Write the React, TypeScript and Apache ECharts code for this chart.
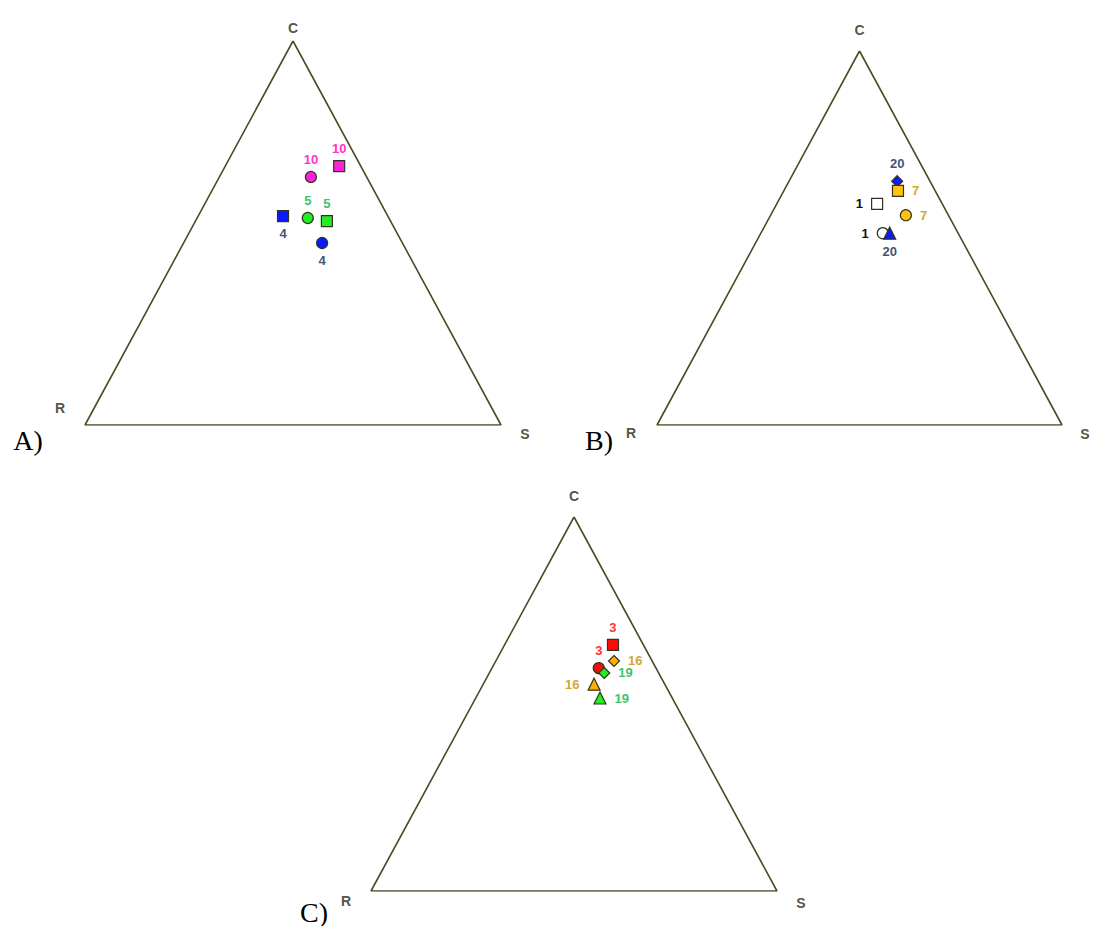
import React, { useEffect, useRef } from "react";
import * as echarts from "echarts";

// Ternary CSR values (percent) for each panel
const aLabels = ["10", "10", "4", "5", "5", "4"];
const aC = [64.6, 67.4, 54.4, 53.9, 53.1, 47.4];
const aS = [22.0, 27.4, 20.4, 26.6, 31.6, 33.3];
const aR = [13.4, 5.2, 25.2, 19.5, 15.3, 19.3];

const bLabels = ["20", "7", "1", "7", "1", "20"];
const bC = [65.2, 62.6, 59.1, 56.1, 51.3, 51.3];
const bS = [26.7, 28.2, 24.8, 33.4, 30.1, 31.8];
const bR = [8.1, 9.2, 16.1, 10.5, 18.6, 16.9];

const cLabels = ["3", "16", "3", "19", "16", "19"];
const cC = [65.8, 61.5, 59.6, 58.3, 55.3, 51.6];
const cS = [26.7, 29.1, 26.3, 28.3, 27.3, 30.6];
const cR = [7.5, 9.4, 14.1, 13.4, 17.4, 17.8];

// Triangle corners (C, S, R)
const cornerNames = ["C", "R", "S"];
const cornerC = [100, 0, 0];
const cornerS = [0, 0, 100];
const cornerR = [0, 100, 0];

const panelNames = ["A)", "B)", "C)"];

// Styles
const aSymbols = ["circle", "rect", "rect", "circle", "rect", "circle"];
const aColors = ["#ff22dd", "#ff22dd", "#0a1aff", "#22ee22", "#22ee22", "#0a1aff"];
const aLabelColors = ["#ff33cc", "#ff33cc", "#3f5577", "#3cc46c", "#3cc46c", "#3f5577"];
const aLabelPos = ["top", "top", "bottom", "top", "top", "bottom"];

const bSymbols = ["diamond", "rect", "rect", "circle", "circle", "triangle"];
const bColors = ["#0a1aff", "#ffc20e", "#ffffff", "#ffc20e", "#ffffff", "#0a1aff"];
const bLabelColors = ["#3f5577", "#d4a631", "#111111", "#d4a631", "#111111", "#3f5577"];
const bLabelPos = ["top", "right", "left", "right", "left", "bottom"];

const cSymbols = ["rect", "diamond", "circle", "diamond", "triangle", "triangle"];
const cColors = ["#ff0a0a", "#ffb000", "#ff0a0a", "#22ee22", "#ffb000", "#22ee22"];
const cLabelColors = ["#ff3333", "#d4a631", "#ff3333", "#3cc46c", "#d4a631", "#3cc46c"];
const cLabelPos = ["top", "right", "top", "right", "left", "right"];

function toXY(c: number, s: number, r: number): [number, number] {
  const t = c + s + r;
  return [(s + c / 2) / t, c / t];
}

const grids = [
  { left: 85, top: 41, width: 416, height: 384 },
  { left: 657, top: 51, width: 405, height: 374 },
  { left: 371, top: 517, width: 406, height: 374 },
];

const cornerOffsets = [
  [[0, -13], [-25, -17], [24, 9]],
  [[0, -21], [-26, 8], [23, 9]],
  [[0, -21], [-25, 10], [24, 12]],
];

const panelLabelPos = [
  [28, 440],
  [599, 440],
  [314, 912],
];

const symbolSizes: Record<string, number> = { circle: 11, rect: 11, diamond: 11, triangle: 12 };

export default function App() {
  const ref = useRef<HTMLDivElement>(null);
  useEffect(() => {
    if (!ref.current) return;
    const chart = echarts.init(ref.current, undefined, { renderer: "svg" });

    const panels = [
      { labels: aLabels, C: aC, S: aS, R: aR, sym: aSymbols, col: aColors, lc: aLabelColors, lp: aLabelPos },
      { labels: bLabels, C: bC, S: bS, R: bR, sym: bSymbols, col: bColors, lc: bLabelColors, lp: bLabelPos },
      { labels: cLabels, C: cC, S: cS, R: cR, sym: cSymbols, col: cColors, lc: cLabelColors, lp: cLabelPos },
    ];

    const series: any[] = [];
    panels.forEach((p, i) => {
      const tri = [0, 1, 2, 0].map((k) => toXY(cornerC[k], cornerS[k], cornerR[k]));
      series.push({
        type: "line",
        xAxisIndex: i,
        yAxisIndex: i,
        data: tri,
        symbol: "none",
        silent: true,
        lineStyle: { color: "#4b4b26", width: 1.6 },
        z: 1,
      });
      series.push({
        type: "scatter",
        xAxisIndex: i,
        yAxisIndex: i,
        symbolSize: 0,
        silent: true,
        data: cornerNames.map((n, k) => ({
          value: toXY(cornerC[k], cornerS[k], cornerR[k]),
          name: n,
          label: {
            show: true,
            position: "inside",
            offset: cornerOffsets[i][k],
            formatter: n,
            color: "#262614",
            fontFamily: "Liberation Sans, Arial, sans-serif",
            fontWeight: "bold",
            fontSize: 14,
          },
        })),
        z: 2,
      });
      series.push({
        type: "scatter",
        xAxisIndex: i,
        yAxisIndex: i,
        z: 3,
        data: p.labels.map((lab, k) => ({
          value: toXY(p.C[k], p.S[k], p.R[k]),
          name: lab,
          symbol: p.sym[k],
          symbolSize: symbolSizes[p.sym[k]],
          itemStyle: { color: p.col[k], borderColor: "#333322", borderWidth: 1.2, opacity: 1 },
          label: {
            show: true,
            formatter: lab,
            position: p.lp[k],
            distance: p.lp[k] === "left" || p.lp[k] === "right" ? 8 : 5,
            color: p.lc[k],
            fontFamily: "Liberation Sans, Arial, sans-serif",
            fontWeight: "bold",
            fontSize: 13,
          },
        })),
      });
    });

    chart.setOption({
      animation: false,
      backgroundColor: "#ffffff",
      grid: grids.map((g) => ({ ...g, containLabel: false })),
      xAxis: grids.map((_, i) => ({ type: "value", gridIndex: i, min: 0, max: 1, show: false })),
      yAxis: grids.map((_, i) => ({ type: "value", gridIndex: i, min: 0, max: 1, show: false })),
      graphic: panelNames.map((n, i) => ({
        type: "text",
        x: panelLabelPos[i][0],
        y: panelLabelPos[i][1],
        style: {
          text: n,
          font: "28px 'Liberation Serif', 'Times New Roman', serif",
          fill: "#000000",
          align: "center",
          verticalAlign: "middle",
        },
      })),
      series,
    });
    return () => chart.dispose();
  }, []);
  return <div ref={ref} style={{ position: "absolute", left: 0, top: 0, width: 1093, height: 926 }} />;
}
